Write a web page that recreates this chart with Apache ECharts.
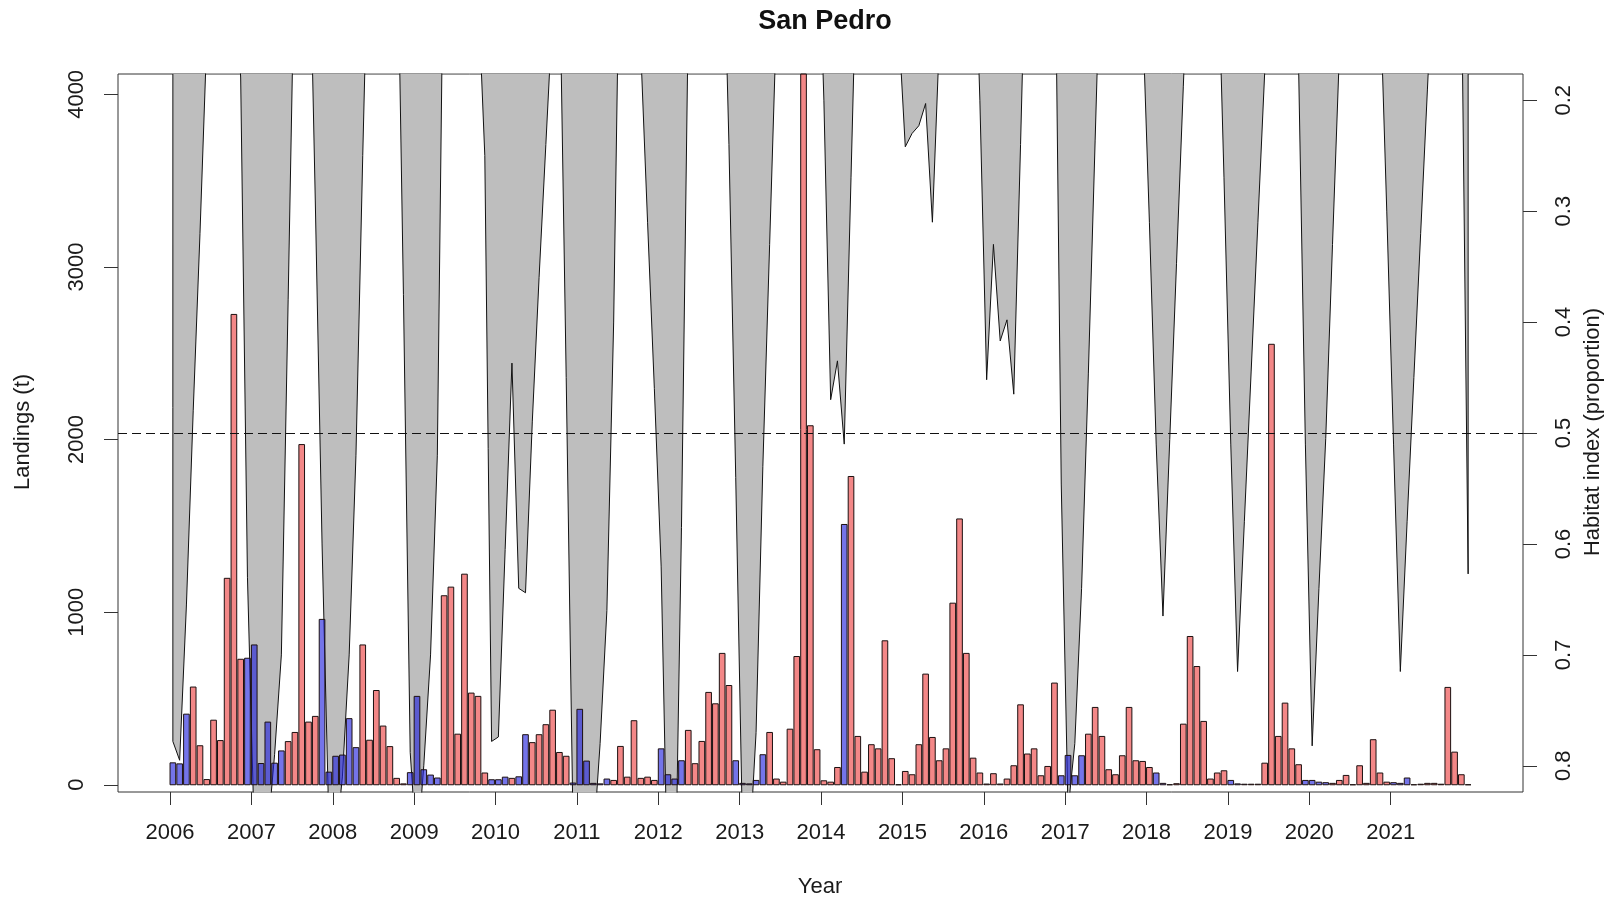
<!DOCTYPE html>
<html>
<head>
<meta charset="utf-8">
<script src="https://cdn.jsdelivr.net/npm/echarts@6/dist/echarts.min.js"></script>
<style>
html,body{margin:0;padding:0;background:#fff;}
#chart{width:1606px;height:899px;}
</style>
</head>
<body>
<div id="chart"></div>
<script>
// ---------------- DATA ----------------
const yearLabels = ['2006','2007','2008','2009','2010','2011','2012','2013','2014','2015','2016','2017','2018','2019','2020','2021'];

// Monthly landings (t), Jan..Dec of each year 2006-2021
const landings = [
  127, 121, 409, 566, 226, 30, 374, 256, 1196, 2725, 727, 733,
  810, 123, 363, 125, 196, 250, 303, 1971, 363, 396, 958, 73,
  165, 172, 383, 215, 810, 258, 546, 340, 221, 37, 5, 70,
  512, 87, 56, 39, 1095, 1145, 293, 1220, 531, 512, 68, 29,
  29, 44, 37, 46, 290, 244, 290, 348, 432, 187, 165, 10,
  437, 137, 8, 5, 33, 25, 222, 44, 371, 37, 44, 25,
  208, 58, 33, 139, 315, 122, 251, 535, 469, 761, 575, 139,
  8, 5, 25, 174, 303, 33, 15, 322, 743, 4250, 2080, 203,
  23, 15, 100, 1508, 1786, 280, 73, 232, 208, 834, 151, 0,
  77, 58, 232, 641, 274, 139, 208, 1052, 1540, 761, 154, 68,
  4, 64, 4, 33, 110, 463, 178, 208, 52, 106, 589, 52,
  170, 52, 168, 293, 448, 280, 87, 58, 168, 448, 139, 135,
  100, 68, 8, 0, 6, 351, 859, 685, 367, 33, 68, 81,
  25, 5, 3, 3, 3, 125, 2552, 280, 473, 208, 116, 25,
  25, 15, 12, 8, 25, 54, 0, 110, 8, 261, 68, 15,
  12, 8, 39, 0, 3, 8, 8, 3, 564, 189, 58, 0
];

// Bar colour per month (B = blue, R = red), one string per year
const barClass = [
  'BBBRRRRRRRRB', 'BBBBBRRRRRBB', 'BBBBRRRRRRRB', 'BBBBRRRRRRRB',
  'BBRBBRRRRRRB', 'BBBBBRRRRRRR', 'BBBBRRRRRRRB', 'BBBBRRRRRRRR',
  'RRRBRRRRRRRR', 'RRRRRRRRRRRR', 'RRRRRRRRRRRB', 'BBBRRRRRRRRR',
  'RBBBRRRRRRRR', 'BBBRRRRRRRRB', 'BBBRRRRRRRRR', 'BBBRRRRRRRRB'
];

// Monthly habitat index (proportion)
const habitat = [
  0.778, 0.795, 0.655, 0.48, 0.32, 0.145, 0.02, 0.02, 0.02, 0.05, 0.18, 0.63,
  0.86, 0.90, 0.86, 0.79, 0.70, 0.38, 0.05, 0.02, 0.0, 0.29, 0.60, 0.85,
  0.87, 0.81, 0.70, 0.52, 0.25, 0.0, 0.03, 0.05, 0.02, 0.0, 0.375, 0.788,
  0.88, 0.80, 0.70, 0.52, 0.0, 0.03, 0.04, 0.02, 0.05, 0.10, 0.25, 0.778,
  0.774, 0.605, 0.437, 0.64, 0.644, 0.49, 0.36, 0.24, 0.12, 0.07, 0.45, 0.85,
  0.88, 0.88, 0.87, 0.78, 0.66, 0.40, 0.0, 0.02, 0.05, 0.155, 0.31, 0.46,
  0.62, 0.92, 0.95, 0.585, 0.125, 0.03, 0.0, 0.03, 0.02, 0.0, 0.24, 0.54,
  0.86, 0.88, 0.77, 0.53, 0.33, 0.13, 0.0, 0.04, 0.02, 0.03, 0.01, 0.0,
  0.20, 0.47, 0.435, 0.51, 0.27, 0.03, 0.0, 0.02, 0.04, 0.02, 0.05, 0.13,
  0.242, 0.23, 0.223, 0.203, 0.31, 0.15, 0.0, 0.03, 0.05, 0.02, 0.0, 0.20,
  0.452, 0.33, 0.417, 0.398, 0.465, 0.24, 0.0, 0.04, 0.02, 0.03, 0.0, 0.546,
  0.84, 0.78, 0.64, 0.446, 0.236, 0.026, 0.0, 0.03, 0.05, 0.02, 0.04, 0.124,
  0.31, 0.51, 0.665, 0.506, 0.347, 0.188, 0.029, 0.0, 0.03, 0.02, 0.046, 0.27,
  0.51, 0.715, 0.58, 0.445, 0.31, 0.175, 0.04, 0.0, 0.03, 0.0, 0.17, 0.51,
  0.782, 0.64, 0.505, 0.33, 0.16, 0.0, 0.03, 0.05, 0.02, 0.0, 0.10, 0.30,
  0.51, 0.715, 0.58, 0.45, 0.32, 0.19, 0.06, 0.0, 0.03, 0.02, 0.077, 0.627
];

const landTicks = [0, 1000, 2000, 3000, 4000];
const habTicks = [0.2, 0.3, 0.4, 0.5, 0.6, 0.7, 0.8];
const threshold = 0.5;

// ---------------- CHART ----------------
const FONT = 'Liberation Sans, Arial, Helvetica, sans-serif';
const BAR_W = 1 / 1.2;          // bar width in months (barplot space = 0.2)
const MID = BAR_W / 2;
const HAB_MIN = 0.1764, HAB_MAX = 0.8236;
const RED = 'rgba(236,62,62,0.62)';
const BLUE = 'rgba(30,30,220,0.62)';

const classes = barClass.join('').split('');
const barData = landings.map((v, i) => [i, v, classes[i] === 'B' ? 1 : 0]);
const habData = habitat.map((v, i) => [i + MID, v]);
const last = habitat.length - 1;
const edgeData = [
  [MID, HAB_MIN], [MID, habitat[0]], '-',
  [last + MID, habitat[last]], [last + MID, HAB_MIN]
];
const yearTicks = yearLabels.map((y, k) => k * 12);

const chart = echarts.init(document.getElementById('chart'), null, {renderer: 'canvas'});
const axisTxt = {fontFamily: FONT, fontSize: 22, color: '#1a1a1a'};
const tickLine = {color: '#333', width: 1};

chart.setOption({
  animation: false,
  backgroundColor: '#fff',
  textStyle: {fontFamily: FONT},
  title: {
    text: 'San Pedro', left: 820, top: 3, textAlign: 'center',
    textStyle: {fontFamily: FONT, fontSize: 27, fontWeight: 'bold', color: '#111'}
  },
  grid: {left: 118, right: 83, top: 74, bottom: 107, show: true, borderColor: '#333', borderWidth: 1, backgroundColor: 'transparent'},
  xAxis: {
    type: 'value', min: -7.673, max: 199.507, position: 'bottom',
    splitLine: {show: false}, axisLine: {show: false, onZero: false},
    axisTick: {show: true, customValues: yearTicks, length: 13, lineStyle: tickLine},
    axisLabel: Object.assign({customValues: yearTicks, margin: 30,
      formatter: v => yearLabels[Math.round(v / 12)]}, axisTxt)
  },
  yAxis: [{
    type: 'value', min: -42, max: 4118, position: 'left',
    splitLine: {show: false}, axisLine: {show: false, onZero: false},
    axisTick: {show: true, customValues: landTicks, length: 14, lineStyle: tickLine},
    axisLabel: Object.assign({customValues: landTicks, rotate: 90, margin: 30,
      formatter: v => String(Math.round(v))}, axisTxt)
  }, {
    type: 'value', min: HAB_MIN, max: HAB_MAX, inverse: true, position: 'right',
    splitLine: {show: false}, axisLine: {show: false, onZero: false},
    axisTick: {show: true, customValues: habTicks, length: 14, lineStyle: tickLine},
    axisLabel: Object.assign({customValues: habTicks, rotate: 90, margin: 30,
      formatter: v => v.toFixed(1)}, axisTxt)
  }],
  graphic: [
    {type: 'text', x: 22.5, y: 432, rotation: Math.PI / 2,
     style: {text: 'Landings (t)', font: '22px ' + FONT, fill: '#1a1a1a', align: 'center', verticalAlign: 'middle'}},
    {type: 'text', x: 1593, y: 432, rotation: Math.PI / 2,
     style: {text: 'Habitat index (proportion)', font: '22px ' + FONT, fill: '#1a1a1a', align: 'center', verticalAlign: 'middle'}},
    {type: 'text', x: 820, y: 887,
     style: {text: 'Year', font: '22px ' + FONT, fill: '#1a1a1a', align: 'center', verticalAlign: 'middle'}}
  ],
  series: [{
    name: 'habitat', type: 'line', yAxisIndex: 1, data: habData,
    symbol: 'none', clip: true, z: 1,
    lineStyle: {color: '#111', width: 1},
    areaStyle: {color: '#BEBEBE', opacity: 1, origin: 'start'}
  }, {
    name: 'edges', type: 'line', yAxisIndex: 1, data: edgeData,
    symbol: 'none', clip: true, z: 1, connectNulls: false,
    lineStyle: {color: '#111', width: 1}
  }, {
    name: 'landings', type: 'custom', yAxisIndex: 0, data: barData, z: 2,
    renderItem: function (params, api) {
      const m = api.value(0), v = api.value(1), c = api.value(2);
      const top = api.coord([m, v]);
      const bot = api.coord([m + BAR_W, 0]);
      const cs = params.coordSys;
      const y0 = Math.max(top[1], cs.y);
      return {
        type: 'rect',
        shape: {x: top[0], y: y0, width: bot[0] - top[0], height: bot[1] - y0},
        style: {fill: c === 1 ? BLUE : RED, stroke: '#1c1010', lineWidth: 1}
      };
    }
  }, {
    name: 'threshold', type: 'line', yAxisIndex: 1, data: [], z: 3,
    markLine: {
      silent: true, symbol: ['none', 'none'], label: {show: false},
      lineStyle: {color: '#111', width: 1, type: [9, 5]},
      data: [{yAxis: threshold}]
    }
  }]
});
</script>
</body>
</html>
